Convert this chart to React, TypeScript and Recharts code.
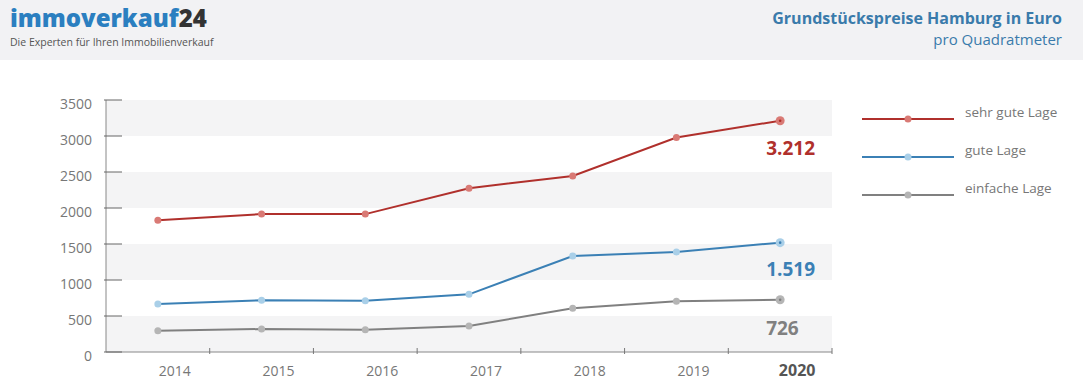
import { LineChart, Line, XAxis, YAxis, CartesianGrid } from "recharts";

const years = ["2014", "2015", "2016", "2017", "2018", "2019", "2020"];
const sehrGut = [1830, 1915, 1915, 2275, 2445, 2980, 3212];
const gut = [667, 718, 713, 801, 1333, 1389, 1519];
const einfach = [296, 319, 310, 361, 607, 704, 726];
const yTicks = [0, 500, 1000, 1500, 2000, 2500, 3000, 3500];

const SERIES = [
  { key: "sehr", name: "sehr gute Lage", color: "#b0302c", dot: "#d97a75", labelY: 27 },
  { key: "gut", name: "gute Lage", color: "#3b80b5", dot: "#a9cfe8", labelY: 26 },
  { key: "einfach", name: "einfache Lage", color: "#808080", dot: "#b5b5b5", labelY: 28 },
];

const data = years.map((year, i) => ({
  year,
  sehr: sehrGut[i],
  gut: gut[i],
  einfach: einfach[i],
}));

const W = 1083;
const H = 380;
const PLOT_LEFT = 106;
const PLOT_RIGHT = 832;
const HALF_BAND = (PLOT_RIGHT - PLOT_LEFT) / years.length / 2;
const FONT = "'Open Sans', sans-serif";

function YTick(props: any) {
  const { x, y, payload } = props;
  return (
    <g>
      <line x1={x} x2={x + 18} y1={y} y2={y} stroke="#666" strokeWidth={1} />
      <text x={x - 12} y={y + 9} textAnchor="end" fontSize={14} fill="#777" fontFamily={FONT}>
        {payload.value}
      </text>
    </g>
  );
}

function XTick(props: any) {
  const { x, y, payload, index } = props;
  const last = index === years.length - 1;
  return (
    <g>
      <line x1={x + HALF_BAND} x2={x + HALF_BAND} y1={y} y2={y - 6} stroke="#777" strokeWidth={1} />
      <text
        x={x + 17}
        y={y + 22}
        textAnchor="middle"
        fontSize={last ? 16 : 14}
        fontWeight={last ? 700 : 400}
        fill={last ? "#555" : "#777"}
        fontFamily={FONT}
      >
        {payload.value}
      </text>
    </g>
  );
}

function makeDot(color: string, light: string) {
  return (props: any) => {
    const { cx, cy, index } = props;
    if (cx == null || cy == null) return <g key={index} />;
    if (index === years.length - 1) {
      return (
        <g key={index}>
          <circle cx={cx} cy={cy} r={4.5} fill={light} />
          <circle cx={cx} cy={cy} r={1.3} fill={color} />
        </g>
      );
    }
    return <circle key={index} cx={cx} cy={cy} r={3.5} fill={light} />;
  };
}

function makeLabel(color: string, offset: number) {
  return (props: any) => {
    const { x, y, index, value } = props;
    if (index !== years.length - 1) return null;
    return (
      <text
        key={index}
        x={x - 14}
        y={y + offset + 7}
        fontSize={19}
        fontWeight={700}
        fill={color}
        fontFamily={FONT}
      >
        {Number(value).toLocaleString("de-DE")}
      </text>
    );
  };
}

function LegendBox() {
  return (
    <svg width={221} height={130}>
      {SERIES.map((s, i) => {
        const y = 29 + i * 38;
        return (
          <g key={s.key}>
            <line x1={0} x2={92} y1={y} y2={y} stroke={s.color} strokeWidth={2} />
            <circle cx={46} cy={y} r={3.5} fill={s.dot} />
            <text x={103} y={y - 2} fontSize={13.5} fill="#777" fontFamily={FONT}>
              {s.name}
            </text>
          </g>
        );
      })}
    </svg>
  );
}

export default function App() {
  return (
    <div style={{ position: "absolute", left: 0, top: 0, width: W, height: H, background: "#fff", fontFamily: FONT }}>
      <div style={{ position: "absolute", left: 0, top: 0, width: W, height: 60, background: "#f2f2f4" }} />
      <div style={{ position: "absolute", left: 10, top: 1, fontSize: 24, fontWeight: 800, color: "#2b7fc0", lineHeight: "34px" }}>
        immoverkauf<span style={{ color: "#333" }}>24</span>
      </div>
      <div style={{ position: "absolute", left: 10, top: 35, fontSize: 10.5, color: "#555", lineHeight: "14px" }}>
        Die Experten für Ihren Immobilienverkauf
      </div>
      <div style={{ position: "absolute", right: 21, top: 7, fontSize: 16, fontWeight: 700, color: "#3a7bab", lineHeight: "22px", textAlign: "right" }}>
        Grundstückspreise Hamburg in Euro
      </div>
      <div style={{ position: "absolute", right: 21, top: 28, fontSize: 15, color: "#3a7bab", lineHeight: "22px", textAlign: "right" }}>
        pro Quadratmeter
      </div>

      <div style={{ position: "absolute", left: 0, top: 0 }}>
        <LineChart width={W} height={H} data={data} margin={{ top: 100, right: W - PLOT_RIGHT, bottom: 0, left: 0 }}>
          {/* alternating stripes, grey first from the top */}
          <CartesianGrid
            vertical={false}
            stroke="none"
            horizontalFill={["#f4f4f5", "#ffffff"]}
            fillOpacity={1}
          />
          <XAxis
            dataKey="year"
            height={28}
            tickSize={0}
            tickLine={false}
            axisLine={{ stroke: "#888" }}
            tick={<XTick />}
            interval={0}
            padding={{ left: HALF_BAND, right: HALF_BAND }}
          />
          <YAxis
            width={PLOT_LEFT}
            domain={[0, 3500]}
            ticks={yTicks}
            tickSize={0}
            tickLine={false}
            axisLine={{ stroke: "#888" }}
            tick={<YTick />}
          />
          {SERIES.map((s) => (
            <Line
              key={s.key}
              dataKey={s.key}
              name={s.name}
              type="linear"
              stroke={s.color}
              strokeWidth={2}
              dot={makeDot(s.color, s.dot)}
              activeDot={false}
              label={makeLabel(s.color, s.labelY)}
              isAnimationActive={false}
            />
          ))}
        </LineChart>
      </div>

      <div style={{ position: "absolute", left: 862, top: 90 }}>
        <LegendBox />
      </div>
    </div>
  );
}
